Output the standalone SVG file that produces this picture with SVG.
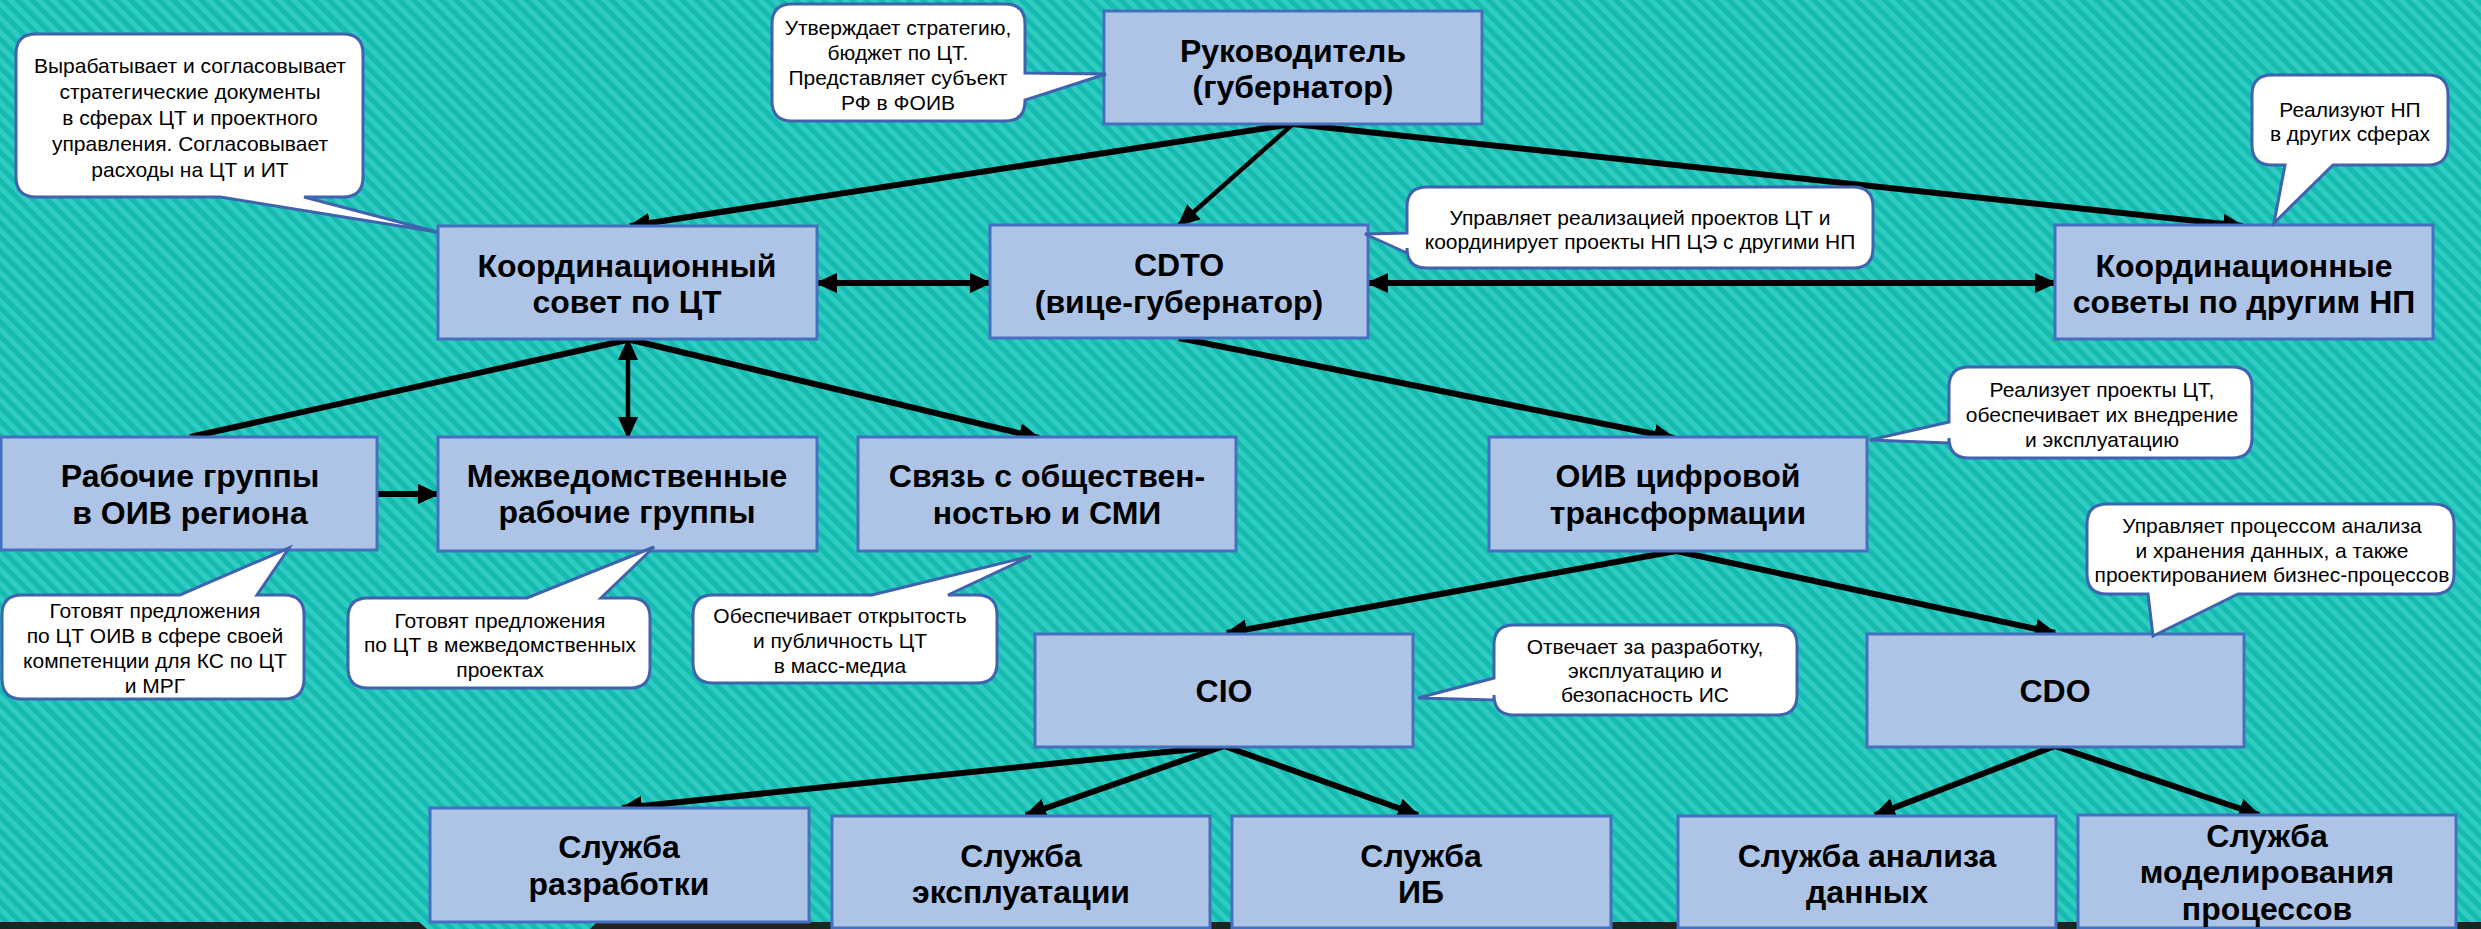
<svg xmlns="http://www.w3.org/2000/svg" width="2481" height="929" viewBox="0 0 2481 929">
<style>
.node rect{fill:#ADC4E7;stroke:#4470BE;stroke-width:3}
.nt{font-family:"Liberation Sans",Arial,sans-serif;font-weight:bold;font-size:32px;fill:#000;text-anchor:middle}
.co path{fill:#fff;stroke:#3F63AE;stroke-width:3;stroke-linejoin:miter}
.ct{font-family:"Liberation Sans",Arial,sans-serif;font-size:21px;fill:#000;text-anchor:middle}
.cn line{stroke:#000;stroke-width:6;fill:none}
.cn line.thin{stroke-width:4.5}
.a{marker-end:url(#ah)}
.d{marker-end:url(#ah);marker-start:url(#ah)}
</style>
<defs>
<pattern id="bg" patternUnits="userSpaceOnUse" width="10" height="10" patternTransform="rotate(45)">
<rect width="10" height="10" fill="#15BAB0"/>
<rect width="10" height="5" fill="#30CBC1"/>
</pattern>
<marker id="ah" markerUnits="userSpaceOnUse" markerWidth="22" markerHeight="20" refX="20" refY="10" orient="auto-start-reverse" viewBox="0 0 22 20">
<path d="M0,0 L22,10 L0,20 Z" fill="#000"/>
</marker>
</defs>
<rect x="0" y="0" width="2481" height="929" fill="url(#bg)"/>
<rect x="0" y="922" width="2481" height="7" fill="#222"/>
<path d="M419,922 H597 L590,929 H427 Z" fill="url(#bg)"/>

<g id="connectors" class="cn">
<line class="a" x1="1293" y1="124" x2="630" y2="226"/>
<line class="a thin" x1="1293" y1="124" x2="1179" y2="225"/>
<line class="a" x1="1293" y1="124" x2="2243" y2="226"/>
<line class="d" x1="817" y1="283" x2="990" y2="283"/>
<line class="d" x1="1368" y1="283" x2="2055" y2="283"/>
<line x1="190" y1="437" x2="627" y2="340"/>
<line class="d thin" x1="628" y1="340" x2="628" y2="437"/>
<line class="a" x1="627" y1="339" x2="1039" y2="438"/>
<line class="a" x1="377" y1="494" x2="438" y2="494"/>
<line class="a" x1="1179" y1="338" x2="1674" y2="438"/>
<line class="a" x1="1676" y1="551" x2="1227" y2="633"/>
<line class="a" x1="1676" y1="551" x2="2055" y2="633"/>
<line class="a" x1="1224" y1="746" x2="622" y2="808"/>
<line class="a" x1="1224" y1="746" x2="1026" y2="815"/>
<line class="a" x1="1224" y1="746" x2="1418" y2="815"/>
<line class="a" x1="2055" y1="746" x2="1875" y2="815"/>
<line class="a" x1="2055" y1="746" x2="2259" y2="815"/>
</g>

<g id="n-rukovoditel" class="node"><rect x="1104" y="11" width="378" height="113"/>
<text class="nt" x="1293" y="62">Руководитель</text><text class="nt" x="1293" y="98">(губернатор)</text></g>
<g id="n-ks-ct" class="node"><rect x="438" y="226" width="379" height="113"/>
<text class="nt" x="627" y="277">Координационный</text><text class="nt" x="627" y="313">совет по ЦТ</text></g>
<g id="n-cdto" class="node"><rect x="990" y="225" width="378" height="113"/>
<text class="nt" x="1179" y="276">CDTO</text><text class="nt" x="1179" y="313">(вице-губернатор)</text></g>
<g id="n-ks-np" class="node"><rect x="2055" y="225" width="378" height="114"/>
<text class="nt" x="2244" y="277">Координационные</text><text class="nt" x="2244" y="313">советы по другим НП</text></g>
<g id="n-rg" class="node"><rect x="1" y="437" width="376" height="113"/>
<text class="nt" x="190" y="487">Рабочие группы</text><text class="nt" x="190" y="524">в ОИВ региона</text></g>
<g id="n-mrg" class="node"><rect x="438" y="437" width="379" height="114"/>
<text class="nt" x="627" y="487">Межведомственные</text><text class="nt" x="627" y="523">рабочие группы</text></g>
<g id="n-smi" class="node"><rect x="858" y="437" width="378" height="114"/>
<text class="nt" x="1047" y="487">Связь с обществен-</text><text class="nt" x="1047" y="524">ностью и СМИ</text></g>
<g id="n-oiv" class="node"><rect x="1489" y="437" width="378" height="114"/>
<text class="nt" x="1678" y="487">ОИВ цифровой</text><text class="nt" x="1678" y="524">трансформации</text></g>
<g id="n-cio" class="node"><rect x="1035" y="634" width="378" height="113"/>
<text class="nt" x="1224" y="702">CIO</text></g>
<g id="n-cdo" class="node"><rect x="1867" y="634" width="377" height="113"/>
<text class="nt" x="2055" y="702">CDO</text></g>
<g id="n-dev" class="node"><rect x="430" y="808" width="379" height="114"/>
<text class="nt" x="619" y="858">Служба</text><text class="nt" x="619" y="895">разработки</text></g>
<g id="n-ops" class="node"><rect x="832" y="816" width="378" height="112"/>
<text class="nt" x="1021" y="867">Служба</text><text class="nt" x="1021" y="903">эксплуатации</text></g>
<g id="n-ib" class="node"><rect x="1232" y="816" width="379" height="112"/>
<text class="nt" x="1421" y="867">Служба</text><text class="nt" x="1421" y="903">ИБ</text></g>
<g id="n-data" class="node"><rect x="1678" y="816" width="378" height="112"/>
<text class="nt" x="1867" y="867">Служба анализа</text><text class="nt" x="1867" y="903">данных</text></g>
<g id="n-model" class="node"><rect x="2078" y="815" width="378" height="113"/>
<text class="nt" x="2267" y="847">Служба</text><text class="nt" x="2267" y="883">моделирования</text><text class="nt" x="2267" y="920">процессов</text></g>

<g id="c-ks" class="co"><path d="M36,34 H343 Q363,34 363,54 V177 Q363,197 343,197 H304 L437,232 L220,197 H36 Q16,197 16,177 V54 Q16,34 36,34 Z"/>
<text class="ct" x="190" y="73">Вырабатывает и согласовывает</text><text class="ct" x="190" y="99">стратегические документы</text><text class="ct" x="190" y="125">в сферах ЦТ и проектного</text><text class="ct" x="190" y="151">управления. Согласовывает</text><text class="ct" x="190" y="177">расходы на ЦТ и ИТ</text></g>
<g id="c-ruk" class="co"><path d="M792,4 H1005 Q1025,4 1025,24 V73 L1106,74 L1025,100 V101 Q1025,121 1005,121 H792 Q772,121 772,101 V24 Q772,4 792,4 Z"/>
<text class="ct" x="898" y="35">Утверждает стратегию,</text><text class="ct" x="898" y="60">бюджет по ЦТ.</text><text class="ct" x="898" y="85">Представляет субъект</text><text class="ct" x="898" y="110">РФ в ФОИВ</text></g>
<g id="c-cdto" class="co"><path d="M1427,187 H1853 Q1873,187 1873,207 V248 Q1873,268 1853,268 H1427 Q1407,268 1407,248 V253 L1365,234 L1407,233 V207 Q1407,187 1427,187 Z"/>
<text class="ct" x="1640" y="225">Управляет реализацией проектов ЦТ и</text><text class="ct" x="1640" y="249">координирует проекты НП ЦЭ с другими НП</text></g>
<g id="c-np" class="co"><path d="M2272,75 H2428 Q2448,75 2448,95 V145 Q2448,165 2428,165 H2333 L2274,223 L2285,165 H2272 Q2252,165 2252,145 V95 Q2252,75 2272,75 Z"/>
<text class="ct" x="2350" y="117">Реализуют НП</text><text class="ct" x="2350" y="141">в других сферах</text></g>
<g id="c-rg" class="co"><path d="M22,595 H180 L289,548 L257,595 H284 Q304,595 304,615 V679 Q304,699 284,699 H22 Q2,699 2,679 V615 Q2,595 22,595 Z"/>
<text class="ct" x="155" y="618">Готовят предложения</text><text class="ct" x="155" y="643">по ЦТ ОИВ в сфере своей</text><text class="ct" x="155" y="668">компетенции для КС по ЦТ</text><text class="ct" x="155" y="693">и МРГ</text></g>
<g id="c-mrg" class="co"><path d="M368,598 H527 L654,547 L601,598 H630 Q650,598 650,618 V668 Q650,688 630,688 H368 Q348,688 348,668 V618 Q348,598 368,598 Z"/>
<text class="ct" x="500" y="628">Готовят предложения</text><text class="ct" x="500" y="652">по ЦТ в межведомственных</text><text class="ct" x="500" y="677">проектах</text></g>
<g id="c-smi" class="co"><path d="M713,595 H872 L1031,556 L948,595 H977 Q997,595 997,615 V663 Q997,683 977,683 H713 Q693,683 693,663 V615 Q693,595 713,595 Z"/>
<text class="ct" x="840" y="623">Обеспечивает открытость</text><text class="ct" x="840" y="648">и публичность ЦТ</text><text class="ct" x="840" y="673">в масс-медиа</text></g>
<g id="c-cio" class="co"><path d="M1514,625 H1777 Q1797,625 1797,645 V695 Q1797,715 1777,715 H1514 Q1494,715 1494,695 V700 L1418,698 L1494,678 V645 Q1494,625 1514,625 Z"/>
<text class="ct" x="1645" y="654">Отвечает за разработку,</text><text class="ct" x="1645" y="678">эксплуатацию и</text><text class="ct" x="1645" y="702">безопасность ИС</text></g>
<g id="c-oiv" class="co"><path d="M1969,367 H2232 Q2252,367 2252,387 V438 Q2252,458 2232,458 H1969 Q1949,458 1949,438 V443 L1870,440 L1949,422 V387 Q1949,367 1969,367 Z"/>
<text class="ct" x="2102" y="397">Реализует проекты ЦТ,</text><text class="ct" x="2102" y="422">обеспечивает их внедрение</text><text class="ct" x="2102" y="447">и эксплуатацию</text></g>
<g id="c-cdo" class="co"><path d="M2107,504 H2434 Q2454,504 2454,524 V574 Q2454,594 2434,594 H2238 L2153,636 L2148,594 H2107 Q2087,594 2087,574 V524 Q2087,504 2107,504 Z"/>
<text class="ct" x="2272" y="533">Управляет процессом анализа</text><text class="ct" x="2272" y="558">и хранения данных, а также</text><text class="ct" x="2272" y="582">проектированием бизнес-процессов</text></g>
</svg>
